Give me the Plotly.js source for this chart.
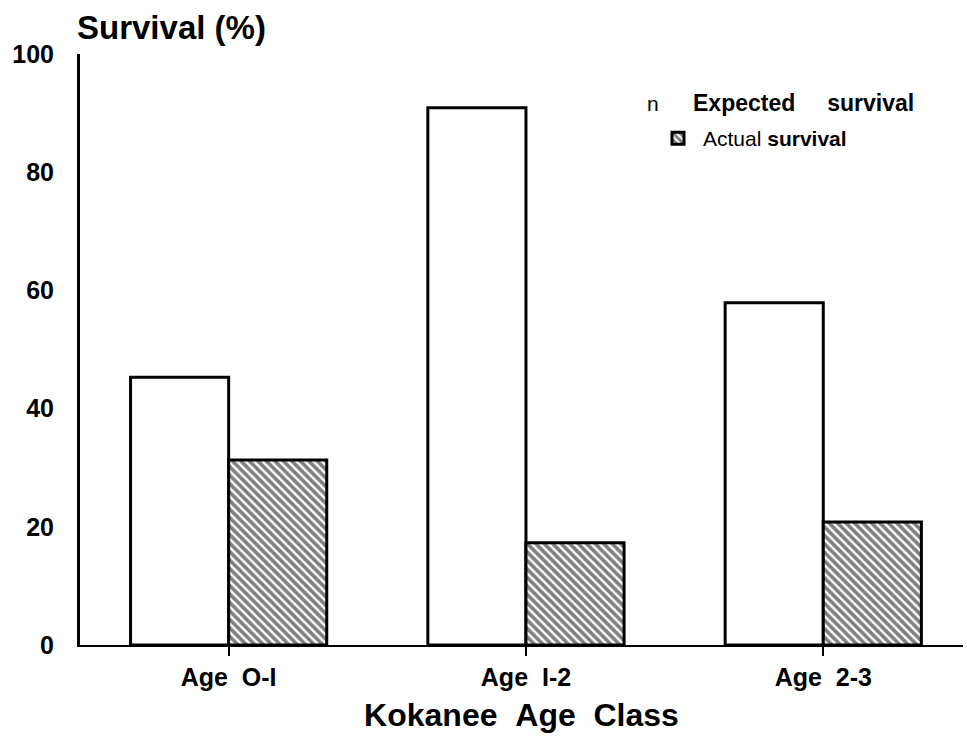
<!DOCTYPE html>
<html>
<head>
<meta charset="utf-8">
<script src="https://cdn.plot.ly/plotly-3.0.1.min.js"></script>
<style>html,body{margin:0;padding:0;background:#fff;}#chart{width:967px;height:740px;}</style>
</head>
<body>
<div id="chart"></div>
<script>
var categories = ["Age\u00a0\u00a0O-I", "Age\u00a0\u00a0I-2", "Age\u00a0\u00a02-3"];
var expectedSurvival = [45.3, 90.9, 57.9];
var actualSurvival = [31.3, 17.3, 20.8];
var yTickValues = [0, 20, 40, 60, 80, 100];

var FONT = "Liberation Sans, Arial, Helvetica, sans-serif";

var traces = [
  {
    type: "bar",
    name: "Expected survival",
    x: categories,
    y: expectedSurvival,
    showlegend: false,
    marker: { color: "#ffffff", line: { color: "#000000", width: 3 } },
    hoverinfo: "x+y"
  },
  {
    type: "bar",
    name: "Actual\u00a0<b>survival</b>",
    x: categories,
    y: actualSurvival,
    marker: {
      color: "#ffffff",
      line: { color: "#000000", width: 3 },
      pattern: { shape: "\\", fgcolor: "#000000", bgcolor: "#ffffff", size: 6, solidity: 0.6, fillmode: "overlay" }
    },
    hoverinfo: "x+y"
  }
];

var layout = {
  width: 967,
  height: 740,
  paper_bgcolor: "#ffffff",
  plot_bgcolor: "#ffffff",
  margin: { l: 80, r: 4, t: 54, b: 95 },
  barmode: "group",
  bargap: 0.34,
  bargroupgap: 0,
  font: { family: FONT, color: "#000000" },
  title: {
    text: "<b>Survival (%)</b>",
    xref: "container", x: 77 / 967, xanchor: "left",
    yref: "container", y: 1 - 27 / 740, yanchor: "middle",
    font: { family: FONT, size: 33, color: "#000000" }
  },
  xaxis: {
    type: "category",
    range: [-0.5, 2.47],
    showline: true, linecolor: "#000000", linewidth: 2,
    ticks: "outside", ticklen: 9, tickwidth: 2, tickcolor: "#000000",
    tickfont: { family: FONT, size: 25, color: "#000000", weight: "bold" },
    showgrid: false, zeroline: false,
    title: {
      text: "<b>Kokanee\u00a0\u00a0Age\u00a0\u00a0Class</b>",
      font: { family: FONT, size: 32, color: "#000000" },
      standoff: 14
    }
  },
  yaxis: {
    range: [0, 100],
    tickvals: yTickValues,
    ticktext: yTickValues.map(String),
    showline: true, linecolor: "#000000", linewidth: 3,
    ticks: "", showgrid: false, zeroline: false,
    ticklabelstandoff: 18,
    tickfont: { family: FONT, size: 25, color: "#000000", weight: "bold" }
  },
  legend: {
    x: (653 - 80) / 883, xanchor: "left",
    y: (645 - 118) / 591, yanchor: "top",
    bgcolor: "rgba(0,0,0,0)",
    borderwidth: 0,
    itemwidth: 40,
    font: { family: FONT, size: 21, color: "#000000" }
  },
  annotations: [
    {
      xref: "paper", yref: "paper",
      x: (645 - 80) / 883, y: (645 - 103) / 591,
      xanchor: "left", yanchor: "middle",
      text: "n",
      showarrow: false,
      font: { family: FONT, size: 21, color: "#000000" }
    },
    {
      xref: "paper", yref: "paper",
      x: (691 - 80) / 883, y: (645 - 103) / 591,
      xanchor: "left", yanchor: "middle",
      text: "<b>Expected</b>\u00a0\u00a0\u00a0\u00a0\u00a0<b>survival</b>",
      showarrow: false,
      font: { family: FONT, size: 23, color: "#000000" }
    }
  ]
};

Plotly.newPlot("chart", traces, layout, { displayModeBar: false, responsive: false });
</script>
</body>
</html>
